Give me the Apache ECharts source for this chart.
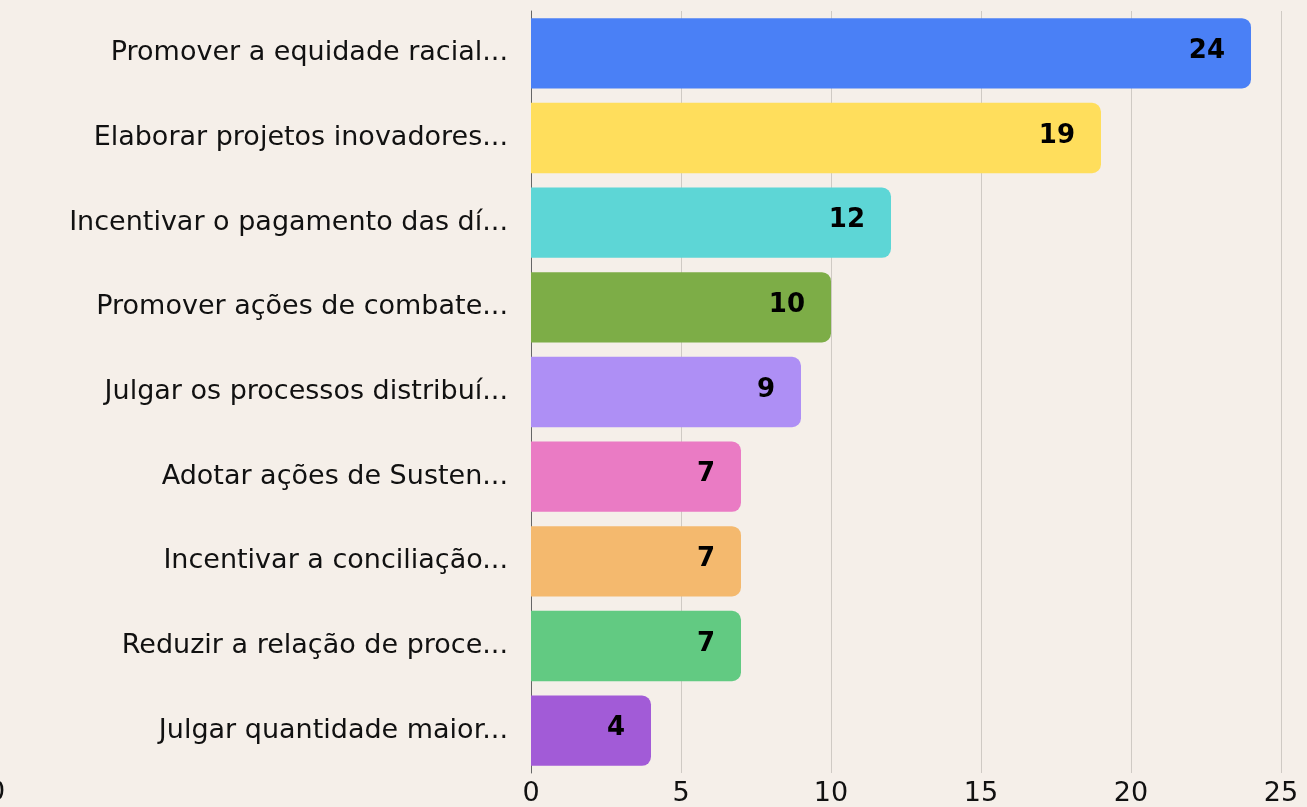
<!DOCTYPE html>
<html>
<head>
<meta charset="utf-8">
<script src="https://cdn.jsdelivr.net/npm/echarts@6/dist/echarts.min.js"></script>
<style>
  html, body { margin: 0; padding: 0; background: #f5efe9; }
  #chart { width: 1307px; height: 807px; }
</style>
</head>
<body>
<div id="chart"></div>
<script>
// 类目（自上而下）
const categories = [
    'Promover a equidade racial...',
    'Elaborar projetos inovadores...',
    'Incentivar o pagamento das dí...',
    'Promover ações de combate...',
    'Julgar os processos distribuí...',
    'Adotar ações de Susten...',
    'Incentivar a conciliação...',
    'Reduzir a relação de proce...',
    'Julgar quantidade maior...'
];
const values = [24, 19, 12, 10, 9, 7, 7, 7, 4];
const barColors = ['#4a80f6', '#ffde5c', '#5dd6d6', '#7dad47', '#ae8ff5', '#ea7bc4', '#f4b96e', '#62ca82', '#a25bd7'];
const xTicks = [0, 25, 5]; // min, max, interval

const font = '"DejaVu Sans", sans-serif';

const chart = echarts.init(document.getElementById('chart'));
const option = {
    backgroundColor: '#f5efe9',
    textStyle: { fontFamily: font },
    grid: { left: 531, right: 26, top: 11, bottom: 34, containLabel: false },
    xAxis: {
        type: 'value',
        min: xTicks[0],
        max: xTicks[1],
        interval: xTicks[2],
        axisLine: { show: false },
        axisTick: { show: false },
        axisLabel: { color: '#111', fontSize: 27, margin: 7, fontFamily: font },
        splitLine: { show: true, lineStyle: { color: '#cfcac4', width: 1 } }
    },
    yAxis: {
        type: 'category',
        inverse: true,
        data: categories,
        axisLine: { show: true, lineStyle: { color: '#666', width: 1 } },
        axisTick: { show: false },
        axisLabel: { color: '#111', fontSize: 27, margin: 23, fontFamily: font }
    },
    series: [{
        type: 'bar',
        barCategoryGap: '17%',
        data: values.map((v, i) => ({ value: v, itemStyle: { color: barColors[i] } })),
        itemStyle: { borderRadius: [0, 9, 9, 0] },
        label: {
            show: true,
            position: 'insideRight',
            distance: 26,
            offset: [0, -2],
            color: '#000',
            fontSize: 26,
            fontWeight: 'bold',
            fontFamily: font
        }
    }],
    graphic: [{
        type: 'text',
        left: -12,
        top: 779,
        style: { text: '0', fontSize: 27, fill: '#111', fontFamily: font }
    }]
};
chart.setOption(option);
</script>
</body>
</html>
